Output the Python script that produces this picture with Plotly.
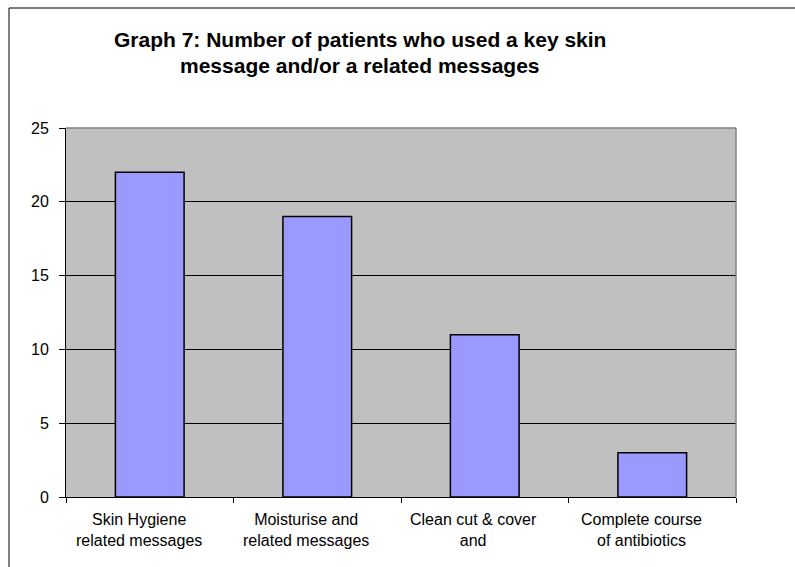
import plotly.graph_objects as go

categories = ["Skin Hygiene<br>related messages", "Moisturise and<br>related messages",
              "Clean cut & cover<br>and", "Complete course<br>of antibiotics"]
values = [22, 19, 11, 3]
y_ticks = [0, 5, 10, 15, 20, 25]
title_lines = ["Graph 7: Number of patients who used a key skin",
               "message and/or a related messages"]

FONT = "Arial, Liberation Sans, sans-serif"
W, H = 795, 567
L, R, T, B = 66, 59, 128, 70
pw, ph = W - L - R, H - T - B

def px_to_paper_x(px):
    return (px - L) / pw

def px_to_paper_y(py):
    return (H - B - py) / ph

fig = go.Figure()
fig.add_trace(go.Bar(
    x=categories, y=values, width=0.41,
    marker=dict(color="#9999FF", line=dict(color="black", width=1.5)),
))

fig.update_layout(
    width=W, height=H,
    margin=dict(l=L, r=R, t=T, b=B),
    paper_bgcolor="white", plot_bgcolor="#C0C0C0",
    showlegend=False,
    font=dict(family=FONT, color="black"),
    xaxis=dict(
        type="category", tickson="boundaries", ticks="outside", ticklen=5,
        tickcolor="black", showline=True, linecolor="black", linewidth=1,
        showgrid=False, showticklabels=False,
        range=[-0.5, 3.5],
    ),
    yaxis=dict(
        range=[0, 25], tickvals=y_ticks, ticks="outside", ticklen=6,
        tickcolor="black", showline=True, linecolor="black", linewidth=1,
        showgrid=True, gridcolor="black", gridwidth=1, zeroline=False,
        tickfont=dict(size=16), ticklabelstandoff=7,
    ),
)

# category labels (drawn slightly left of the category centre, as in the original)
for cat in categories:
    fig.add_annotation(text=cat, xref="x", yref="paper", x=cat, y=0,
                       xanchor="center", yanchor="top", yshift=-12, xshift=-11,
                       showarrow=False, align="center",
                       font=dict(size=16, family=FONT, color="black"))

# plot-area top & right border (gray)
fig.add_shape(type="line", xref="paper", yref="paper", x0=0, x1=1, y0=1, y1=1,
              line=dict(color="#808080", width=1.5), layer="above")
fig.add_shape(type="line", xref="paper", yref="paper", x0=1, x1=1, y0=0, y1=1,
              line=dict(color="#808080", width=1.5), layer="above")

# outer chart border (left & top visible)
fig.add_shape(type="rect", xref="paper", yref="paper",
              x0=px_to_paper_x(9), x1=px_to_paper_x(W + 20),
              y0=px_to_paper_y(H + 20), y1=px_to_paper_y(8),
              line=dict(color="black", width=1), fillcolor="rgba(0,0,0,0)", layer="below")

for line, base in zip(title_lines, [47, 73]):
    fig.add_annotation(text="<b>%s</b>" % line, xref="paper", yref="paper",
                       x=px_to_paper_x(360), y=px_to_paper_y(base + 6),
                       xanchor="center", yanchor="bottom", showarrow=False,
                       font=dict(size=21, family=FONT, color="black"))

fig.write_html("out.html")
